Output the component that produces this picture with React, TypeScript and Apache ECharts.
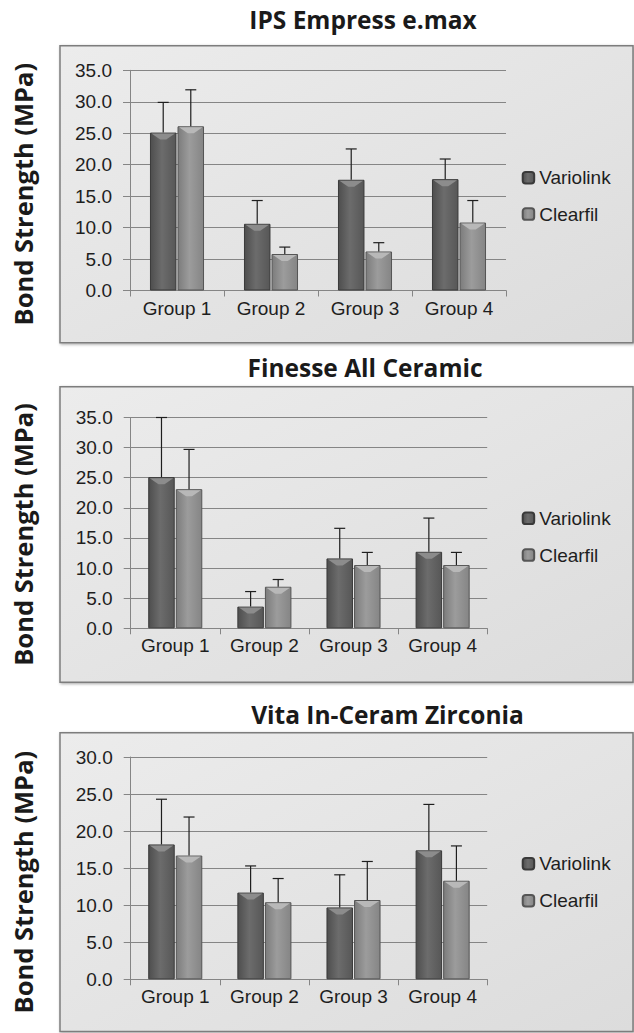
import React, { useEffect, useRef } from "react";
import * as echarts from "echarts";

const groups = ["Group 1", "Group 2", "Group 3", "Group 4"];
const seriesNames = ["Variolink", "Clearfil"];
const titles = ["IPS Empress e.max", "Finesse All Ceramic", "Vita In-Ceram Zirconia"];
const yTitle = "Bond Strength (MPa)";
const yMax = [35, 35, 30];

// IPS Empress e.max
const empressVariolink = [25.1, 10.6, 17.6, 17.7];
const empressVariolinkSD = [4.8, 3.7, 4.9, 3.2];
const empressClearfil = [26.1, 5.8, 6.2, 10.8];
const empressClearfilSD = [5.8, 1.1, 1.4, 3.5];
// Finesse All Ceramic
const finesseVariolink = [25.1, 3.6, 11.6, 12.7];
const finesseVariolinkSD = [9.9, 2.5, 5.0, 5.6];
const finesseClearfil = [23.1, 6.9, 10.5, 10.5];
const finesseClearfilSD = [6.6, 1.2, 2.1, 2.1];
// Vita In-Ceram Zirconia
const vitaVariolink = [18.2, 11.7, 9.7, 17.4];
const vitaVariolinkSD = [6.1, 3.6, 4.4, 6.2];
const vitaClearfil = [16.7, 10.4, 10.7, 13.3];
const vitaClearfilSD = [5.2, 3.2, 5.2, 4.7];

const panelData = [
  [empressVariolink, empressVariolinkSD, empressClearfil, empressClearfilSD],
  [finesseVariolink, finesseVariolinkSD, finesseClearfil, finesseClearfilSD],
  [vitaVariolink, vitaVariolinkSD, vitaClearfil, vitaClearfilSD],
];

// layout
const grids = [
  { left: 130, top: 70.3, width: 376, height: 220.2 },
  { left: 130.7, top: 417.5, width: 356.5, height: 210.8 },
  { left: 130.7, top: 757, width: 356.5, height: 222.3 },
];
const boxes = [
  { y: 45.7, h: 297 },
  { y: 386.7, h: 295.6 },
  { y: 732.7, h: 298.8 },
];
const titlePos = [
  { x: 363, y: 19 },
  { x: 365, y: 367.5 },
  { x: 387.5, y: 714 },
];
const legendPos = [
  { top: 168.2, gap: 17.3 },
  { top: 508.8, gap: 17.7 },
  { top: 854.2, gap: 18 },
];

const BAR_W = 26.5;
const GAP_PCT = 4;
const FS = 19;
const SANS = "'Liberation Sans', Arial, Helvetica, sans-serif";
const TITLE_FONT = "'Open Sans', 'Noto Sans', sans-serif";

const varColor = new echarts.graphic.LinearGradient(0, 0, 1, 0, [
  { offset: 0, color: "#4e4e4e" },
  { offset: 0.45, color: "#6c6c6c" },
  { offset: 1, color: "#575757" },
]);
const clrColor = new echarts.graphic.LinearGradient(0, 0, 1, 0, [
  { offset: 0, color: "#7c7c7c" },
  { offset: 0.45, color: "#9c9c9c" },
  { offset: 1, color: "#858585" },
]);

function errRender(sign: number, bevel: string) {
  return (params: any, api: any) => {
    const x = api.value(0);
    const m = api.value(1);
    const s = api.value(2);
    const p0 = api.coord([x, m]);
    const p1 = api.coord([x, m + s]);
    const off = (sign * (BAR_W + (BAR_W * GAP_PCT) / 100)) / 2;
    const cx = p0[0] + off;
    const style = { stroke: "#1e1e1e", lineWidth: 1.2 };
    const l = cx - BAR_W / 2 + 1.5;
    const r = cx + BAR_W / 2 - 1.5;
    const t = p0[1] + 1;
    return {
      type: "group",
      children: [
        {
          type: "polygon",
          shape: { points: [[l, t], [r, t], [cx + 3, t + 6], [cx - 3, t + 6]] },
          style: { fill: bevel },
        },
        { type: "line", shape: { x1: cx, y1: p0[1], x2: cx, y2: p1[1] }, style },
        { type: "line", shape: { x1: cx - 5.5, y1: p1[1], x2: cx + 5.5, y2: p1[1] }, style },
      ],
    };
  };
}

export default function App() {
  const ref = useRef<HTMLDivElement>(null);
  useEffect(() => {
    if (!ref.current) return;
    const chart = echarts.init(ref.current, null, { renderer: "svg" });

    const graphic: any[] = [];
    boxes.forEach((b, i) => {
      graphic.push({
        type: "rect",
        z: -10,
        shape: { x: 60, y: b.y, width: 573, height: b.h },
        style: {
          fill: new echarts.graphic.LinearGradient(0, 0, 1, 1, [
            { offset: 0, color: "#ececec" },
            { offset: 1, color: "#dcdcdc" },
          ]),
          stroke: "#7d7d7d",
          lineWidth: 1.5,
          shadowBlur: 3,
          shadowColor: "rgba(0,0,0,0.35)",
          shadowOffsetX: 1,
          shadowOffsetY: 1,
        },
      });
      graphic.push({
        type: "text",
        x: titlePos[i].x,
        y: titlePos[i].y,
        style: {
          text: titles[i],
          fontFamily: TITLE_FONT,
          fontWeight: "bold",
          fontSize: 24.5,
          fill: "#1a1a1a",
          align: "center",
          verticalAlign: "middle",
        },
      });
      graphic.push({
        type: "text",
        x: 23.3,
        y: b.y + b.h / 2,
        rotation: Math.PI / 2,
        style: {
          text: yTitle,
          fontFamily: TITLE_FONT,
          fontWeight: "bold",
          fontSize: 25.5,
          fill: "#1a1a1a",
          align: "center",
          verticalAlign: "middle",
        },
      });
    });

    const xAxis: any[] = [];
    const yAxis: any[] = [];
    const series: any[] = [];
    const legend: any[] = [];

    grids.forEach((g, i) => {
      xAxis.push({
        type: "category",
        gridIndex: i,
        data: groups,
        axisLine: { lineStyle: { color: "#858585", width: 1 } },
        axisTick: { show: true, length: 6, interval: 0, lineStyle: { color: "#858585" } },
        axisLabel: {
          fontSize: FS,
          color: "#1e1e1e",
          fontFamily: SANS,
          margin: 8,
          interval: 0,
          hideOverlap: false,
        },
      });
      yAxis.push({
        type: "value",
        gridIndex: i,
        min: 0,
        max: yMax[i],
        interval: 5,
        axisLine: { show: true, lineStyle: { color: "#858585", width: 1 } },
        axisTick: { show: true, length: 7, lineStyle: { color: "#858585" } },
        splitLine: { lineStyle: { color: "#858585", width: 1.1 } },
        axisLabel: {
          fontSize: FS,
          color: "#1e1e1e",
          fontFamily: SANS,
          margin: 18,
          formatter: (v: number) => v.toFixed(1),
        },
      });
      const [v, vsd, c, csd] = panelData[i];
      series.push({
        type: "bar",
        name: seriesNames[0],
        xAxisIndex: i,
        yAxisIndex: i,
        data: v,
        barWidth: BAR_W,
        barGap: GAP_PCT + "%",
        itemStyle: { color: varColor, borderColor: "#3a3a3a", borderWidth: 1 },
      });
      series.push({
        type: "bar",
        name: seriesNames[1],
        xAxisIndex: i,
        yAxisIndex: i,
        data: c,
        barWidth: BAR_W,
        barGap: GAP_PCT + "%",
        itemStyle: { color: clrColor, borderColor: "#555555", borderWidth: 1 },
      });
      series.push({
        type: "custom",
        name: "err-v-" + i,
        xAxisIndex: i,
        yAxisIndex: i,
        z: 5,
        renderItem: errRender(-1, "#8c8c8c"),
        encode: { x: 0, y: 1 },
        data: v.map((m, k) => [k, m, vsd[k]]),
      });
      series.push({
        type: "custom",
        name: "err-c-" + i,
        xAxisIndex: i,
        yAxisIndex: i,
        z: 5,
        renderItem: errRender(1, "#b8b8b8"),
        encode: { x: 0, y: 1 },
        data: c.map((m, k) => [k, m, csd[k]]),
      });
      legend.push({
        data: seriesNames,
        orient: "vertical",
        left: 521.7,
        top: legendPos[i].top,
        padding: 0,
        itemGap: legendPos[i].gap,
        itemWidth: 11.5,
        itemHeight: 11.5,
        selectedMode: false,
        textStyle: { fontSize: FS, color: "#1e1e1e", fontFamily: SANS, lineHeight: 19 },
      });
    });

    chart.setOption({
      animation: false,
      backgroundColor: "#ffffff",
      grid: grids.map((g) => ({ ...g, containLabel: false })),
      xAxis,
      yAxis,
      series,
      legend,
      graphic,
    });
    return () => chart.dispose();
  }, []);
  return (
    <div
      ref={ref}
      style={{ position: "absolute", left: 0, top: 0, width: 634, height: 1033 }}
    />
  );
}
